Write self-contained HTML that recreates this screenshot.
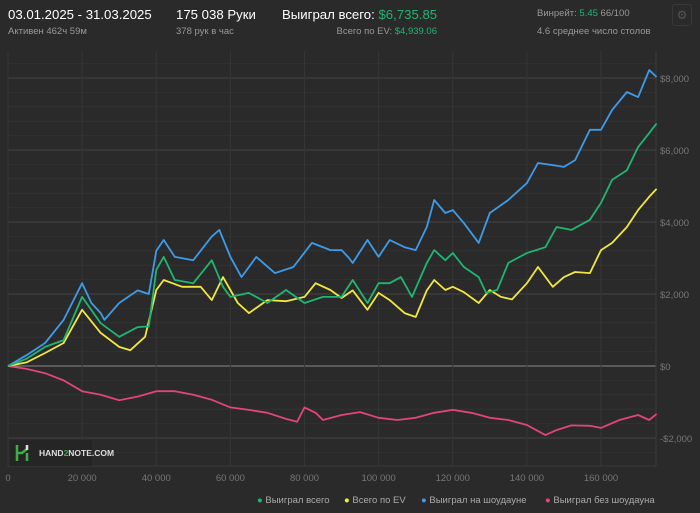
<!DOCTYPE html>
<html><head><meta charset="utf-8">
<style>
body{margin:0;background:#2a2a2a;width:700px;height:513px;overflow:hidden;font-family:"Liberation Sans","DejaVu Sans",sans-serif;}
.t{position:absolute;white-space:nowrap;}
</style></head>
<body>
<div>
<div class="t" style="left:8px;top:7px;color:#fff;font-size:13.2px;">03.01.2025 - 31.03.2025</div>
<div class="t" style="left:8px;top:26px;color:#999;font-size:9.5px;">Активен 462ч 59м</div>
<div class="t" style="left:176px;top:7px;color:#fff;font-size:13.2px;">175 038 Руки</div>
<div class="t" style="left:176px;top:26px;color:#999;font-size:9.5px;">378 рук в час</div>
<div class="t" style="left:282px;top:7px;color:#fff;font-size:13.2px;">Выиграл всего: <span style="color:#1fb672">$6,735.85</span></div>
<div class="t" style="right:263px;top:26px;color:#999;font-size:9.5px;">Всего по EV: <span style="color:#1fb672">$4,939.06</span></div>
<div class="t" style="left:537px;top:8px;color:#999;font-size:9.5px;">Винрейт: <span style="color:#1fb672">5.45</span> 66/100</div>
<div class="t" style="left:537px;top:26px;color:#999;font-size:9.5px;">4.6 среднее число столов</div>
<div class="t" style="left:672px;top:4px;width:18px;height:20px;border:1px solid #383838;border-radius:3px;color:#555;font-size:12px;text-align:center;line-height:20px;">⚙</div>
</div>
<svg id="chart" width="700" height="513" style="position:absolute;left:0;top:0"></svg>
<div style="position:absolute;left:10px;top:440px;width:82px;height:26px;background:#252525;">
<svg width="20" height="22" style="position:absolute;left:4px;top:2px"><path d="M3 3v16M3 11h5l5-4M13 11v8" stroke="#3fae49" stroke-width="2.5" fill="none"/><path d="M13 3v5" stroke="#ddd" stroke-width="2.5"/></svg>
<div class="t" style="left:29px;top:8px;color:#ddd;font-size:8.5px;font-weight:bold;">HAND<span style="color:#3fae49">2</span>NOTE.COM</div>
</div>
<div>
<div class="t" style="left:257px;top:495px;color:#aaa;font-size:9.5px;"><span style="color:#1fb672">●</span> Выиграл всего</div>
<div class="t" style="left:344px;top:495px;color:#aaa;font-size:9.5px;"><span style="color:#f2e640">●</span> Всего по EV</div>
<div class="t" style="left:421px;top:495px;color:#aaa;font-size:9.5px;"><span style="color:#3d9be9">●</span> Выиграл на шоудауне</div>
<div class="t" style="left:545px;top:495px;color:#aaa;font-size:9.5px;"><span style="color:#e0457b">●</span> Выиграл без шоудауна</div>
</div>
<script>
const xTicks=[0,20000,40000,60000,80000,100000,120000,140000,160000];
const xTickLabels=["0","20 000","40 000","60 000","80 000","100 000","120 000","140 000","160 000"];
const yTicks=[-2000,0,2000,4000,6000,8000];
const yTickLabels=["-$2,000","$0","$2,000","$4,000","$6,000","$8,000"];
const blueHands=[0,5,10,15,20,22.5,25,26,30,35,38,40,42,45,50,55,57,60,63,67,72,77,82,87,90,92,93,97,100,103,107,110,113,115,118,120,123,127,130,135,140,143,147,150,153,157,160,163,167,170,173,175];
const blueValues=[0,300,640,1280,2300,1750,1470,1280,1750,2100,2000,3200,3500,3030,2940,3600,3780,3030,2470,3030,2580,2750,3420,3220,3220,3000,2860,3500,3030,3500,3300,3220,3860,4610,4250,4330,3970,3420,4250,4610,5080,5640,5580,5530,5720,6560,6560,7110,7610,7470,8220,8030];
const greenHands=[0,5,10,15,20,25,30,35,38,40,42,45,50,55,58,60,65,70,75,80,85,90,93,97,100,103,106,109,113,115,118,120,123,127,129,132,135,140,145,148,152,157,160,163,167,170,173,175];
const greenValues=[0,200,530,720,1920,1190,810,1080,1100,2670,3030,2390,2300,2940,2200,1920,2030,1750,2110,1750,1920,1920,2390,1750,2300,2300,2470,1920,2860,3220,2940,3140,2750,2470,2030,2110,2860,3140,3300,3860,3780,4060,4530,5170,5440,6080,6470,6740];
const yellowHands=[0,5,10,15,20,25,30,33,37,40,42,47,52,55,58,62,65,70,75,80,83,87,90,93,97,100,103,107,110,113,115,118,120,123,127,130,133,136,140,143,147,150,153,157,160,163,167,170,173,175];
const yellowValues=[0,100,360,640,1560,920,530,440,810,2110,2390,2200,2200,1830,2470,1750,1470,1830,1800,1920,2300,2110,1890,2100,1560,2030,1830,1470,1360,2100,2390,2110,2200,2050,1750,2110,1920,1850,2300,2750,2200,2470,2610,2580,3220,3420,3860,4330,4700,4920];
const redHands=[0,5,10,15,20,25,30,35,40,45,50,55,60,65,70,75,78,80,83,85,90,95,100,105,110,115,120,125,130,135,140,145,148,152,157,160,165,170,173,175];
const redValues=[0,-80,-200,-400,-700,-800,-950,-850,-700,-700,-800,-940,-1150,-1220,-1300,-1470,-1550,-1150,-1300,-1500,-1360,-1280,-1440,-1500,-1440,-1300,-1220,-1300,-1440,-1500,-1640,-1920,-1780,-1650,-1660,-1720,-1500,-1360,-1500,-1330];
const NS='http://www.w3.org/2000/svg';
const svg=document.getElementById('chart');
const L=8,R=656,T=51,B=466;
const xs=h=>L+h*(601-8)/160000;
const ys=v=>366-v*72/2000;
function mk(tag,attrs){const e=document.createElementNS(NS,tag);for(const k in attrs)e.setAttribute(k,attrs[k]);svg.appendChild(e);return e;}
for(let v=-2400;v<=8400;v+=400){if(ys(v)<T||ys(v)>B)continue;
 const major=v%2000===0;
 const g=mk('line',{x1:L,x2:R,y1:ys(v),y2:ys(v),stroke:major?(v===0?'#8a8a8a':'#444'):'#323232','stroke-width':1});
 
 }
xTicks.forEach((t,i)=>{
 const g=mk('line',{x1:xs(t),x2:xs(t),y1:T,y2:B,stroke:'#363636','stroke-width':1});
 
 
 const tx=mk('text',{x:xs(t),y:481,fill:'#777','font-size':'9.5','text-anchor':'middle','font-family':'Liberation Sans, sans-serif'});
 tx.textContent=xTickLabels[i];
 
 });
const rb=mk('line',{x1:R,x2:R,y1:T,y2:B,stroke:'#3a3a3a'});


const bb=mk('line',{x1:L,x2:R,y1:B,y2:B,stroke:'#3a3a3a'});


yTicks.forEach((t,i)=>{
 const tx=mk('text',{x:660,y:ys(t)+4,fill:'#777','font-size':'9.5','font-family':'Liberation Sans, sans-serif'});
 tx.textContent=yTickLabels[i];
 
 });
function line(hs,vs,color,name){
 const d=hs.map((h,i)=>(i?'L':'M')+xs(h*1000).toFixed(1)+' '+ys(vs[i]).toFixed(1)).join('');
 const p=mk('path',{d:d,stroke:color,'stroke-width':1.8,fill:'none','stroke-linejoin':'round'});
 
 }
line(redHands,redValues,'#e0457b','nonshowdown-line');
line(blueHands,blueValues,'#3d9be9','showdown-line');
line(yellowHands,yellowValues,'#f2e640','ev-line');
line(greenHands,greenValues,'#1fb672','total-won-line');
</script>
</body></html>
